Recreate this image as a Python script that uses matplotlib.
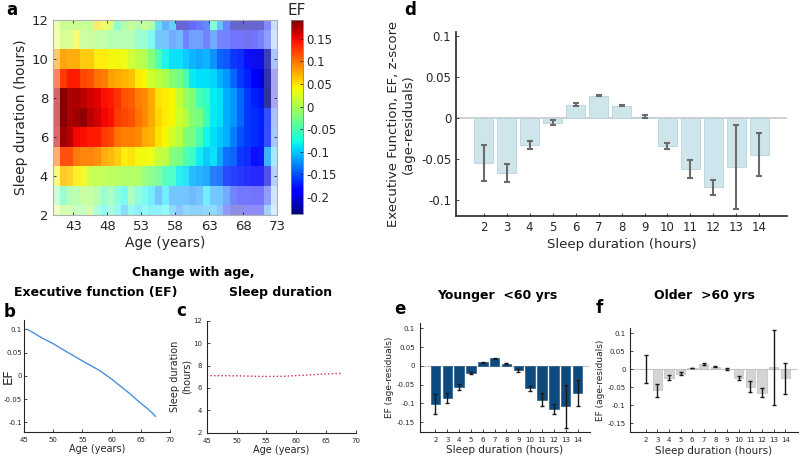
import numpy as np
import matplotlib
matplotlib.use("Agg")
import matplotlib.pyplot as plt
from matplotlib import cm, colors

# ---- panel a: EF by age (columns) and sleep duration (rows) ----
age_edges = list(range(40, 74))          # 33 one-year bins, 40..73
sleep_rows = list(range(2, 13))          # 2..12 hours

ef_h2 = [0.02, 0.0, 0.0, -0.02, -0.02, 0.0, -0.05, -0.08, -0.05, -0.08, -0.11, -0.08, -0.09, -0.08, -0.09, -0.09, -0.08,
         -0.11, -0.13, -0.11, -0.12, -0.12, -0.11, -0.11, -0.13, -0.17, -0.21, -0.21, -0.19, -0.19, -0.19, -0.13, -0.12]
ef_h3 = [-0.03, -0.05, -0.02, -0.02, -0.005, -0.005, -0.02, -0.05, -0.03, -0.06, -0.08, -0.03, -0.06, -0.08, -0.09, -0.12, -0.09,
         -0.12, -0.12, -0.12, -0.13, -0.12, -0.09, -0.12, -0.12, -0.14, -0.17, -0.18, -0.18, -0.19, -0.19, -0.17, -0.13]
ef_h4 = [0.04, 0.065, 0.06, 0.045, 0.04, 0.015, 0.01, 0.01, 0.005, 0.005, 0.0, 0.0, 0.0, -0.015, -0.025, -0.03, -0.055,
         -0.06, -0.085, -0.09, -0.11, -0.115, -0.12, -0.14, -0.145, -0.165, -0.17, -0.175, -0.18, -0.19, -0.19, -0.2, -0.14]
ef_h5 = [0.1, 0.12, 0.12, 0.1, 0.095, 0.095, 0.09, 0.075, 0.07, 0.06, 0.045, 0.05, 0.04, 0.04, 0.035, 0.015, 0.01,
         -0.02, -0.025, -0.05, -0.06, -0.085, -0.1, -0.09, -0.115, -0.14, -0.145, -0.165, -0.17, -0.19, -0.18, -0.12, -0.11]
ef_h6 = [0.165, 0.18, 0.17, 0.15, 0.145, 0.14, 0.14, 0.125, 0.12, 0.1, 0.095, 0.095, 0.09, 0.075, 0.07, 0.05, 0.04,
         0.02, 0.01, -0.02, -0.025, -0.05, -0.08, -0.09, -0.1, -0.11, -0.13, -0.15, -0.16, -0.165, -0.17, -0.17, -0.14]
ef_h7 = [0.17, 0.19, 0.175, 0.18, 0.185, 0.17, 0.16, 0.15, 0.145, 0.125, 0.12, 0.115, 0.1, 0.09, 0.075, 0.055, 0.045,
         0.04, 0.02, 0.005, -0.02, -0.025, -0.055, -0.085, -0.09, -0.11, -0.12, -0.14, -0.16, -0.165, -0.17, -0.17, -0.15]
ef_h8 = [0.17, 0.19, 0.175, 0.175, 0.17, 0.16, 0.155, 0.145, 0.14, 0.13, 0.115, 0.11, 0.095, 0.09, 0.075, 0.05, 0.045,
         0.04, 0.015, -0.01, -0.02, -0.05, -0.06, -0.085, -0.09, -0.11, -0.12, -0.14, -0.16, -0.17, -0.175, -0.235, -0.2]
ef_h9 = [0.13, 0.125, 0.14, 0.14, 0.12, 0.115, 0.1, 0.095, 0.08, 0.075, 0.07, 0.065, 0.045, 0.04, 0.02, 0.01, 0.0,
         -0.02, -0.025, -0.05, -0.085, -0.09, -0.09, -0.095, -0.11, -0.12, -0.14, -0.16, -0.17, -0.19, -0.2, -0.225, -0.2]
ef_h10 = [0.08, 0.08, 0.075, 0.075, 0.06, 0.06, 0.045, 0.045, 0.04, 0.04, 0.035, 0.02, 0.01, 0.005, -0.02, -0.05, -0.08,
          -0.09, -0.09, -0.1, -0.11, -0.115, -0.11, -0.125, -0.145, -0.15, -0.165, -0.17, -0.19, -0.195, -0.2, -0.225, -0.15]
ef_h11 = [0.03, 0.01, 0.01, 0.04, 0.0, 0.0, -0.01, -0.01, -0.02, -0.02, -0.02, -0.02, -0.05, -0.05, -0.08, -0.12, -0.12,
          -0.14, -0.13, -0.17, -0.15, -0.15, -0.17, -0.14, -0.17, -0.17, -0.185, -0.185, -0.2, -0.19, -0.17, -0.17, -0.13]
ef_h12 = [0.03, 0.0, 0.0, 0.005, 0.0, 0.0, 0.05, 0.035, 0.02, -0.05, -0.02, -0.005, -0.02, 0.0, -0.02, -0.1, -0.13,
          -0.11, -0.215, -0.215, -0.18, -0.17, -0.16, -0.06, -0.12, -0.16, -0.22, -0.225, -0.22, -0.22, -0.22, -0.18, -0.14]

# opacity (sample size) per sleep row and per age column
row_alpha = [0.45, 0.55, 0.85, 0.95, 1.0, 1.0, 1.0, 1.0, 0.95, 0.55, 0.6]
col_alpha = [0.6] + [1.0] * 30 + [0.8, 0.35]

# ---- panel b / c: change with age ----
age_b = [45.5, 46, 48, 50, 52, 55, 58, 60, 61, 63, 65, 66, 67, 67.5]
ef_b = [0.1, 0.097, 0.082, 0.069, 0.054, 0.032, 0.011, -0.007, -0.017, -0.037, -0.059, -0.069, -0.08, -0.087]
age_c = [45, 48, 50, 52, 55, 58, 60, 62, 65, 67.5]
sleep_c = [7.1, 7.09, 7.08, 7.05, 7.02, 7.04, 7.1, 7.15, 7.25, 7.3]

# ---- panels d, e, f: EF residuals by sleep duration ----
hours = list(range(2, 15))
ef_all = [-0.0555, -0.067, -0.033, -0.006, 0.016, 0.0273, 0.015, 0.0016, -0.034, -0.062, -0.085, -0.06, -0.045]
err_all = [0.022, 0.011, 0.0045, 0.003, 0.002, 0.001, 0.001, 0.002, 0.0035, 0.011, 0.009, 0.051, 0.026]
ef_young = [-0.102, -0.086, -0.056, -0.018, 0.009, 0.02, 0.006, -0.012, -0.06, -0.09, -0.114, -0.108, -0.072]
err_young = [0.026, 0.014, 0.007, 0.003, 0.002, 0.001, 0.001, 0.003, 0.007, 0.018, 0.013, 0.057, 0.034]
ef_old = [0.0, -0.059, -0.024, -0.013, 0.003, 0.014, 0.007, 0.001, -0.025, -0.049, -0.065, 0.005, -0.025]
err_old = [0.039, 0.018, 0.007, 0.004, 0.001, 0.002, 0.001, 0.002, 0.005, 0.015, 0.013, 0.103, 0.043]

TXT = "#262626"
plt.rcParams["font.family"] = ["DejaVu Sans"]
plt.rcParams["text.color"] = TXT
plt.rcParams["axes.labelcolor"] = TXT
plt.rcParams["xtick.color"] = TXT
plt.rcParams["ytick.color"] = TXT

fig = plt.figure(figsize=(8, 4.59), dpi=100)


def matlab_axes(ax, tick_size):
    for s in ["top", "right"]:
        ax.spines[s].set_visible(False)
    for s in ["left", "bottom"]:
        ax.spines[s].set_color(TXT)
        ax.spines[s].set_linewidth(0.8)
    ax.tick_params(direction="in", length=2.5, width=0.6, labelsize=tick_size)


# panel a
ax_a = fig.add_axes([0.0663, 0.5316, 0.28, 0.4248])
grid = np.array([ef_h2, ef_h3, ef_h4, ef_h5, ef_h6, ef_h7, ef_h8, ef_h9, ef_h10, ef_h11, ef_h12])
norm = colors.Normalize(vmin=-0.238, vmax=0.192)
cmap = plt.get_cmap("jet")
rgba = cmap(norm(grid))
rgba[..., 3] = np.outer(row_alpha, col_alpha)
ax_a.imshow(rgba, origin="lower", aspect="auto", interpolation="nearest",
            extent=[age_edges[0], age_edges[-1], sleep_rows[0] - 0.5, sleep_rows[-1] + 0.5])
ax_a.set_xlim(age_edges[0], age_edges[-1])
ax_a.set_ylim(2, 12)
ax_a.set_xticks([43, 48, 53, 58, 63, 68, 73])
ax_a.set_yticks([2, 4, 6, 8, 10, 12])
ax_a.tick_params(direction="in", length=2.5, width=0.6, labelsize=9.5, top=True, right=True)
for s in ax_a.spines.values():
    s.set_color("#b0b0b0")
    s.set_linewidth(0.8)
ax_a.set_xlabel("Age (years)", fontsize=10, labelpad=2)
ax_a.set_ylabel("Sleep duration (hours)", fontsize=10, labelpad=2)

cax = fig.add_axes([0.3634, 0.5338, 0.0158, 0.4227])
cb = fig.colorbar(cm.ScalarMappable(norm=norm, cmap=cmap), cax=cax)
cb.set_ticks([0.15, 0.1, 0.05, 0, -0.05, -0.1, -0.15, -0.2])
cb.set_ticklabels(["0.15", "0.1", "0.05", "0", "-0.05", "-0.1", "-0.15", "-0.2"])
cb.ax.tick_params(direction="in", length=2, width=0.6, labelsize=8.5, pad=2)
cb.outline.set_edgecolor("#808080")
cb.outline.set_linewidth(0.6)
fig.text(0.371, 0.977, "EF", fontsize=11, ha="center", va="center")

# panel d
ax_d = fig.add_axes([0.57, 0.5294, 0.4138, 0.4009])
ax_d.axhline(0, color="#c8c8c8", linewidth=1.2, zorder=1)
ax_d.bar(hours, ef_all, width=0.8, color="#cfe5ec", edgecolor="#b7d3dc", linewidth=0.6, zorder=2)
ax_d.errorbar(hours, ef_all, yerr=err_all, fmt="none", ecolor="#6b6b6b", elinewidth=1.5, capsize=2, capthick=1.5, zorder=3)
ax_d.set_xlim(0.8, 15.2)
ax_d.set_ylim(-0.12, 0.105)
ax_d.set_xticks(hours)
ax_d.set_yticks([0.1, 0.05, 0, -0.05, -0.1])
ax_d.set_yticklabels(["0.1", "0.05", "0", "-0.05", "-0.1"])
matlab_axes(ax_d, 8.5)
ax_d.spines["left"].set_linewidth(1.2)
ax_d.spines["bottom"].set_linewidth(1.2)
ax_d.set_xlabel("Sleep duration (hours)", fontsize=9.5, labelpad=3)
ax_d.set_ylabel("Executive Function, EF, z-score\n(age-residuals)", fontsize=9.5, labelpad=4)

# panel b
ax_b = fig.add_axes([0.03, 0.0595, 0.1825, 0.2434])
ax_b.plot(age_b, ef_b, color="#4a90d9", linewidth=1.0)
ax_b.set_xlim(45, 70)
ax_b.set_ylim(-0.12, 0.12)
ax_b.set_xticks([45, 50, 55, 60, 65, 70])
ax_b.set_yticks([0.1, 0.05, 0, -0.05, -0.1])
ax_b.set_yticklabels(["0.1", "0.05", "0", "-0.05", "-0.1"])
matlab_axes(ax_b, 5)
ax_b.tick_params(axis="y", pad=1.5)
ax_b.set_xlabel("Age (years)", fontsize=7, labelpad=1)
fig.text(0.002, 0.18, "EF", fontsize=9.5, rotation=90, ha="left", va="center")

# panel c
ax_c = fig.add_axes([0.2584, 0.0573, 0.1863, 0.244])
ax_c.plot(age_c, sleep_c, color="#d0304a", linewidth=1.0, linestyle=":")
ax_c.set_xlim(45, 70)
ax_c.set_ylim(2, 12)
ax_c.set_xticks([45, 50, 55, 60, 65, 70])
ax_c.set_yticks([2, 4, 6, 8, 10, 12])
matlab_axes(ax_c, 5)
ax_c.set_xlabel("Age (years)", fontsize=7, labelpad=1)
ax_c.set_ylabel("Sleep duration\n(hours)", fontsize=7, labelpad=1)

# panels e and f
for rect, vals, errs, bar_col, err_col in [
    ([0.525, 0.0595, 0.2125, 0.236], ef_young, err_young, "#0d4a7e", "#1a1a1a"),
    ([0.788, 0.058, 0.209, 0.2266], ef_old, err_old, "#d4d4d4", "#1a1a1a"),
]:
    ax = fig.add_axes(rect)
    ax.axhline(0, color="#c8c8c8", linewidth=0.8, zorder=1)
    ax.bar(hours, vals, width=0.8, color=bar_col, edgecolor="#b5b5b5" if bar_col == "#d4d4d4" else bar_col,
           linewidth=0.4, zorder=2)
    ax.errorbar(hours, vals, yerr=errs, fmt="none", ecolor=err_col, elinewidth=1.0, capsize=1.5, capthick=1.0, zorder=3)
    ax.set_xlim(0.7, 15.05)
    ax.set_ylim(-0.175, 0.113)
    ax.set_xticks(hours)
    ax.set_yticks([0.1, 0.05, 0, -0.05, -0.1, -0.15])
    ax.set_yticklabels(["0.1", "0.05", "0", "-0.05", "-0.1", "-0.15"])
    matlab_axes(ax, 5)
    ax.set_xlabel("Sleep duration (hours)", fontsize=7.5, labelpad=2)
    ax.set_ylabel("EF (age-residuals)", fontsize=6.5, labelpad=2)

# titles and panel letters
fig.text(0.241, 0.407, "Change with age,", fontsize=9, fontweight="bold", ha="center", va="center", color="black")
fig.text(0.12, 0.362, "Executive function (EF)", fontsize=9, fontweight="bold", ha="center", va="center", color="black")
fig.text(0.351, 0.362, "Sleep duration", fontsize=9, fontweight="bold", ha="center", va="center", color="black")
fig.text(0.621, 0.357, "Younger  <60 yrs", fontsize=9, fontweight="bold", ha="center", va="center", color="black")
fig.text(0.881, 0.357, "Older  >60 yrs", fontsize=9, fontweight="bold", ha="center", va="center", color="black")

for x, y, s in [(0.008, 0.978, "a"), (0.505, 0.978, "d"), (0.005, 0.32, "b"),
                (0.22, 0.322, "c"), (0.493, 0.327, "e"), (0.745, 0.329, "f")]:
    fig.text(x, y, s, fontsize=12, fontweight="bold", ha="left", va="center", color="black")

fig.savefig("out.png", dpi=100)
